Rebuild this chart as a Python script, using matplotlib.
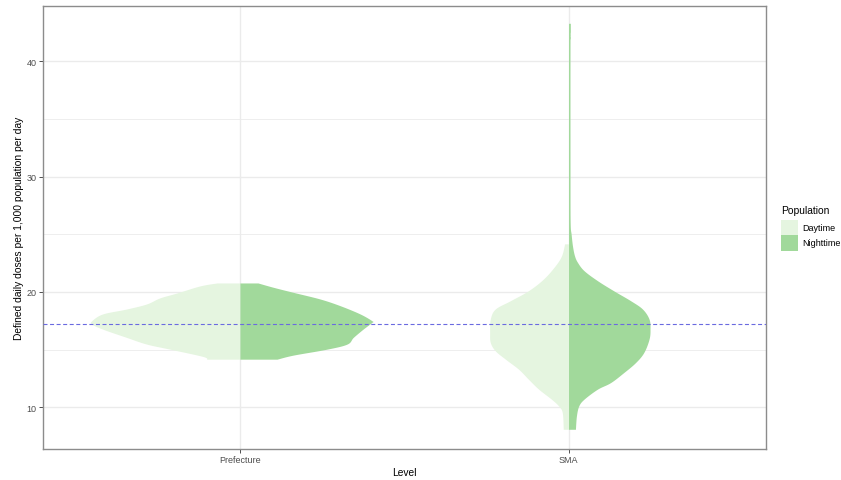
import matplotlib
matplotlib.use("Agg")
import matplotlib.pyplot as plt
from matplotlib.patches import Rectangle
import numpy as np

# ---------------- data ----------------
categories = ["Prefecture", "SMA"]
series = ["Daytime", "Nighttime"]
reference_value = 17.22

# violin half-width profiles: value (DDD) and half-width (category units)
pref_day_y = [14.17, 14.41, 15.04, 15.48, 16.06, 16.78, 17.22, 17.50, 18.09, 18.52, 18.96, 19.48, 19.91, 20.52, 20.78]
pref_day_w = [0.101, 0.113, 0.213, 0.284, 0.345, 0.418, 0.451, 0.451, 0.418, 0.345, 0.284, 0.244, 0.192, 0.122, 0.070]

pref_night_y = [14.17, 14.52, 15.04, 15.48, 16.06, 16.78, 17.37, 17.50, 18.09, 18.81, 19.39, 19.97, 20.41, 20.78]
pref_night_w = [0.113, 0.162, 0.265, 0.326, 0.345, 0.375, 0.402, 0.402, 0.366, 0.305, 0.244, 0.162, 0.101, 0.055]

sma_day_y = [8.09, 9.54, 10.11, 10.70, 11.57, 12.43, 13.30, 14.17, 14.90, 15.62, 16.49, 17.65, 18.52, 19.24, 20.11, 21.13, 22.29, 23.16, 24.17]
sma_day_w = [0.016, 0.019, 0.030, 0.052, 0.091, 0.122, 0.152, 0.192, 0.223, 0.238, 0.240, 0.238, 0.223, 0.177, 0.122, 0.076, 0.040, 0.021, 0.012]

sma_night_y = [8.09, 9.24, 10.11, 10.70, 11.57, 12.14, 13.01, 13.88, 14.75, 15.91, 16.78, 17.65, 18.52, 19.24, 20.11, 20.98, 21.85, 22.58, 23.16, 24.0, 25.0, 26.0, 30.0, 41.5, 42.0, 43.3]
sma_night_w = [0.021, 0.024, 0.031, 0.047, 0.088, 0.128, 0.168, 0.204, 0.229, 0.245, 0.248, 0.245, 0.225, 0.189, 0.137, 0.088, 0.047, 0.027, 0.018, 0.012, 0.008, 0.005, 0.0045, 0.0045, 0.0055, 0.0055]

y_ticks = [10, 20, 30, 40]
y_minor = [15, 25, 35]

colors = {"Daytime": "#e5f5e0", "Nighttime": "#a1d99b"}


def smooth_outline(y, w, n=12):
    """Catmull-Rom curve through the read outline points (for drawing only)."""
    p = np.column_stack([y, w]).astype(float)
    p = np.vstack([p[0], p, p[-1]])
    out = []
    t = np.linspace(0, 1, n, endpoint=False)[:, None]
    for k in range(1, len(p) - 2):
        p0, p1, p2, p3 = p[k - 1], p[k], p[k + 1], p[k + 2]
        seg = 0.5 * ((2 * p1) + (-p0 + p2) * t + (2 * p0 - 5 * p1 + 4 * p2 - p3) * t ** 2
                     + (-p0 + 3 * p1 - 3 * p2 + p3) * t ** 3)
        out.append(seg)
    out.append(p[-2][None, :])
    out = np.vstack(out)
    order = np.argsort(out[:, 0], kind="stable")
    out = out[order]
    return out[:, 0], np.clip(out[:, 1], 0, None)


# ---------------- figure ----------------
plt.rcParams["font.family"] = ["Liberation Sans", "DejaVu Sans"]
W, H = 841, 481
fig = plt.figure(figsize=(W / 100, H / 100), dpi=100)
ax = fig.add_axes([42.7 / W, (H - 450) / H, (765.7 - 42.7) / W, (450 - 7) / H])

ax.set_xlim(0.4, 2.6)
ax.set_ylim(6.38, 44.8)

# grid
for v in y_minor:
    ax.axhline(v, color="#ebebeb", lw=0.6, zorder=0)
for v in y_ticks:
    ax.axhline(v, color="#ebebeb", lw=1.0, zorder=0)
for i in range(len(categories)):
    ax.axvline(i + 1, color="#ebebeb", lw=1.0, zorder=0)

profiles = {
    ("Prefecture", "Daytime"): (pref_day_y, pref_day_w),
    ("Prefecture", "Nighttime"): (pref_night_y, pref_night_w),
    ("SMA", "Daytime"): (sma_day_y, sma_day_w),
    ("SMA", "Nighttime"): (sma_night_y, sma_night_w),
}

for i, cat in enumerate(categories):
    xc = i + 1
    for s in series:
        yy, ww = smooth_outline(*profiles[(cat, s)])
        if s == "Daytime":
            ax.fill_betweenx(yy, xc - ww, xc, color=colors[s], lw=0, zorder=2)
        else:
            ax.fill_betweenx(yy, xc, xc + ww, color=colors[s], lw=0, zorder=2)

ax.axhline(reference_value, color="#6a6ae0", lw=0.8, dashes=(3.6, 2.3), zorder=3)

ax.set_xticks(range(1, len(categories) + 1))
ax.set_xticklabels(categories)
ax.set_yticks(y_ticks)
ax.tick_params(axis="both", labelsize=6.5, labelcolor="#4d4d4d", color="#333333",
               length=2.8, width=0.6, pad=1.5)
for sp in ax.spines.values():
    sp.set_color("#8c8c8c")
    sp.set_linewidth(1.0)

ax.set_xlabel("Level", fontsize=7.4, labelpad=2)
ax.set_ylabel("Defined daily doses per 1,000 population per day", fontsize=7.4, labelpad=2)

# legend (manual, ggplot style)
fig.text(781 / W, 1 - 211 / H, "Population", fontsize=7.4, va="center", ha="left")
key_x0, key_w, key_h = 780.7, 17.5, 15.5
for j, s in enumerate(series):
    top = 220.7 + j * key_h
    fig.patches.append(Rectangle((key_x0 / W, 1 - (top + key_h) / H), key_w / W, key_h / H,
                                 transform=fig.transFigure, facecolor=colors[s],
                                 edgecolor="none"))
    fig.text(802.7 / W, 1 - (top + key_h / 2) / H, s, fontsize=6.5, va="center", ha="left")

fig.savefig("out.png", dpi=100)
